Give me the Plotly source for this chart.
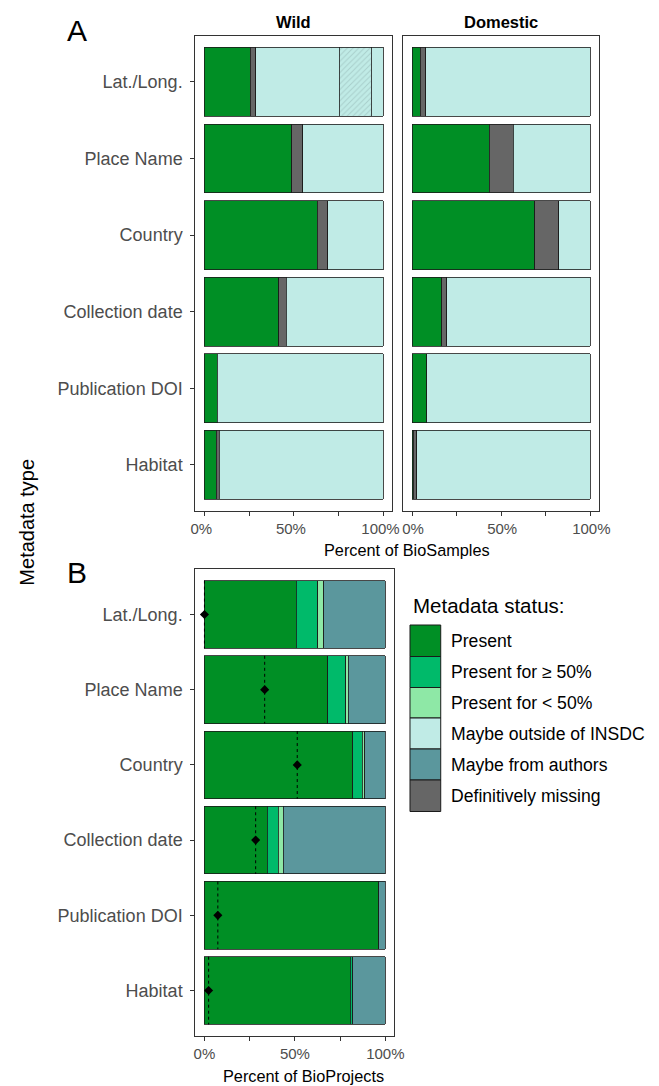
import plotly.graph_objects as go

W, H = 659, 1086
OFF = 8  # default page body margin
FW, FH = W - OFF, H - OFF

def fx(p):
    return (p - OFF) / FW

def fy(p):
    return 1 - (p - OFF) / FH

# ---------------- data ----------------
categories = ["Lat./Long.", "Place Name", "Country", "Collection date", "Publication DOI", "Habitat"]

# Panel A - Wild (percent of BioSamples)
wild_present = [25.5, 48.8, 62.9, 41.4, 7.2, 6.7]
wild_missing = [3.2, 6.2, 6.0, 4.4, 0.0, 1.7]
wild_outside = [46.7, 45.0, 31.1, 54.2, 92.8, 91.6]
wild_outside_hatched = [17.7, 0.0, 0.0, 0.0, 0.0, 0.0]
wild_outside_rest = [6.9, 0.0, 0.0, 0.0, 0.0, 0.0]

# Panel A - Domestic
dom_present = [4.5, 43.3, 68.8, 16.7, 8.3, 0.7]
dom_missing = [3.3, 13.6, 13.6, 2.7, 0.0, 1.8]
dom_outside = [92.2, 43.1, 17.6, 80.6, 91.7, 97.5]

# Panel B (percent of BioProjects)
proj_present = [50.7, 68.1, 81.9, 34.6, 96.4, 80.6]
proj_ge50 = [12.0, 10.0, 5.4, 6.1, 0.0, 1.3]
proj_lt50 = [3.3, 1.5, 1.4, 2.8, 0.0, 0.0]
proj_authors = [34.0, 20.4, 11.3, 56.5, 3.6, 18.1]
proj_marker = [0.0, 33.3, 51.3, 28.3, 7.4, 2.3]

status_labels = ["Present", "Present for \u2265 50%", "Present for < 50%",
                 "Maybe outside of INSDC", "Maybe from authors", "Definitively missing"]
status_colors = ["#008f25", "#00ba6a", "#8ee8a6", "#c0ebe6", "#5b979d", "#666666"]
C = dict(zip(status_labels, status_colors))

FONT = "Liberation Sans, Arial, Helvetica, sans-serif"
ypos = list(range(len(categories)))

def nz(arr):
    return [v if v > 0 else None for v in arr]

fig = go.Figure()

def add_bar(vals, color, xa, ya, name, pattern=None):
    marker = dict(color=color, line=dict(color="#1a1a1a", width=0.8))
    if pattern:
        marker["pattern"] = pattern
    fig.add_trace(go.Bar(x=nz(vals), y=ypos, orientation="h", width=0.9,
                         marker=marker, xaxis=xa, yaxis=ya, name=name,
                         showlegend=False, hoverinfo="x+name"))

# Wild
add_bar(wild_present, C["Present"], "x", "y", "Present")
add_bar(wild_missing, C["Definitively missing"], "x", "y", "Definitively missing")
add_bar(wild_outside, C["Maybe outside of INSDC"], "x", "y", "Maybe outside of INSDC")
add_bar(wild_outside_hatched, C["Maybe outside of INSDC"], "x", "y", "Maybe outside of INSDC",
        pattern=dict(shape="/", fgcolor="#8fb3b0", bgcolor=C["Maybe outside of INSDC"],
                     size=4, solidity=0.25))
add_bar(wild_outside_rest, C["Maybe outside of INSDC"], "x", "y", "Maybe outside of INSDC")

# Domestic
add_bar(dom_present, C["Present"], "x2", "y2", "Present")
add_bar(dom_missing, C["Definitively missing"], "x2", "y2", "Definitively missing")
add_bar(dom_outside, C["Maybe outside of INSDC"], "x2", "y2", "Maybe outside of INSDC")

# Panel B
add_bar(proj_present, C["Present"], "x3", "y3", "Present")
add_bar(proj_ge50, C["Present for \u2265 50%"], "x3", "y3", "Present for \u2265 50%")
add_bar(proj_lt50, C["Present for < 50%"], "x3", "y3", "Present for < 50%")
add_bar(proj_authors, C["Maybe from authors"], "x3", "y3", "Maybe from authors")

# dotted lines + markers
lx, ly = [], []
for i, m in enumerate(proj_marker):
    lx += [m, m, None]
    ly += [i - 0.45, i + 0.45, None]
fig.add_trace(go.Scatter(x=lx, y=ly, mode="lines", xaxis="x3", yaxis="y3",
                         line=dict(color="black", width=1, dash="dot"),
                         showlegend=False, hoverinfo="skip"))
fig.add_trace(go.Scatter(x=proj_marker, y=ypos, mode="markers", xaxis="x3", yaxis="y3",
                         marker=dict(symbol="diamond", size=7, color="black"),
                         showlegend=False))

fig.update_layout(barmode="stack")

ax_common = dict(range=[-5, 105], tickvals=[0, 25, 50, 75, 100],
                 ticktext=["0%", "", "50%", "", "100%"], ticks="outside", ticklen=4,
                 tickcolor="#333333", tickwidth=1, showline=True, mirror=True,
                 linecolor="#333333", linewidth=1.3, showgrid=False, zeroline=False,
                 tickfont=dict(family=FONT, size=15, color="#4d4d4d"), fixedrange=True)
ay_common = dict(range=[5.6, -0.6], tickvals=ypos, ticktext=categories, ticks="outside",
                 ticklen=4, tickcolor="#333333", tickwidth=1, showline=True, mirror=True,
                 linecolor="#333333", linewidth=1.3, showgrid=False, zeroline=False,
                 ticklabelstandoff=4,
                 tickfont=dict(family=FONT, size=18, color="#4d4d4d"), fixedrange=True)

top_dom = [fy(510.7), fy(36)]
bot_dom = [fy(1035.7), fy(569.3)]

fig.update_layout(
    xaxis=dict(ax_common, domain=[fx(195), fx(397)], anchor="y", ticklabelshift=-3),
    yaxis=dict(ay_common, domain=top_dom, anchor="x"),
    xaxis2=dict(ax_common, domain=[fx(408), fx(609)], anchor="y2", ticklabelshift=1),
    yaxis2=dict(ay_common, domain=top_dom, anchor="x2", showticklabels=False, ticks=""),
    xaxis3=dict(ax_common, domain=[fx(195), fx(399)], anchor="y3"),
    yaxis3=dict(ay_common, domain=bot_dom, anchor="x3"),
)

annotations = []
def txt(x, y, s, size, color="black", bold=False, xanchor="center", angle=0):
    annotations.append(dict(x=fx(x), y=fy(y), xref="paper", yref="paper",
                            text=("<b>%s</b>" % s) if bold else s, showarrow=False,
                            xanchor=xanchor, yanchor="middle", textangle=angle,
                            font=dict(family=FONT, size=size, color=color)))

txt(296, 22, "Wild", 16.5, bold=True)
txt(508.5, 22, "Domestic", 16.5, bold=True)
txt(74, 31, "A", 30)
txt(74, 572, "B", 30)
txt(412, 550, "Percent of BioSamples", 16.3)
txt(306, 1076, "Percent of BioProjects", 16.3)
txt(22, 522, "Metadata type", 20, angle=-90)

# manual legend
txt(416, 605, "Metadata status:", 20.5, xanchor="left")
row_edges = [625, 656.5, 687.5, 718, 749, 780, 811.5]
shapes = []
for i, (lab, col) in enumerate(zip(status_labels, status_colors)):
    y0, y1 = row_edges[i], row_edges[i + 1]
    shapes.append(dict(type="rect", xref="paper", yref="paper",
                       x0=fx(415), x1=fx(446.5), y0=fy(y1), y1=fy(y0),
                       fillcolor=col, line=dict(color="#1a1a1a", width=1)))
    txt(455, (y0 + y1) / 2, lab, 17.6, xanchor="left")

fig.update_layout(
    annotations=annotations, shapes=shapes,
    width=FW, height=FH, margin=dict(l=0, r=0, t=0, b=0),
    paper_bgcolor="white", plot_bgcolor="white",
    font=dict(family=FONT), showlegend=False,
)

fig.write_html("out.html")
